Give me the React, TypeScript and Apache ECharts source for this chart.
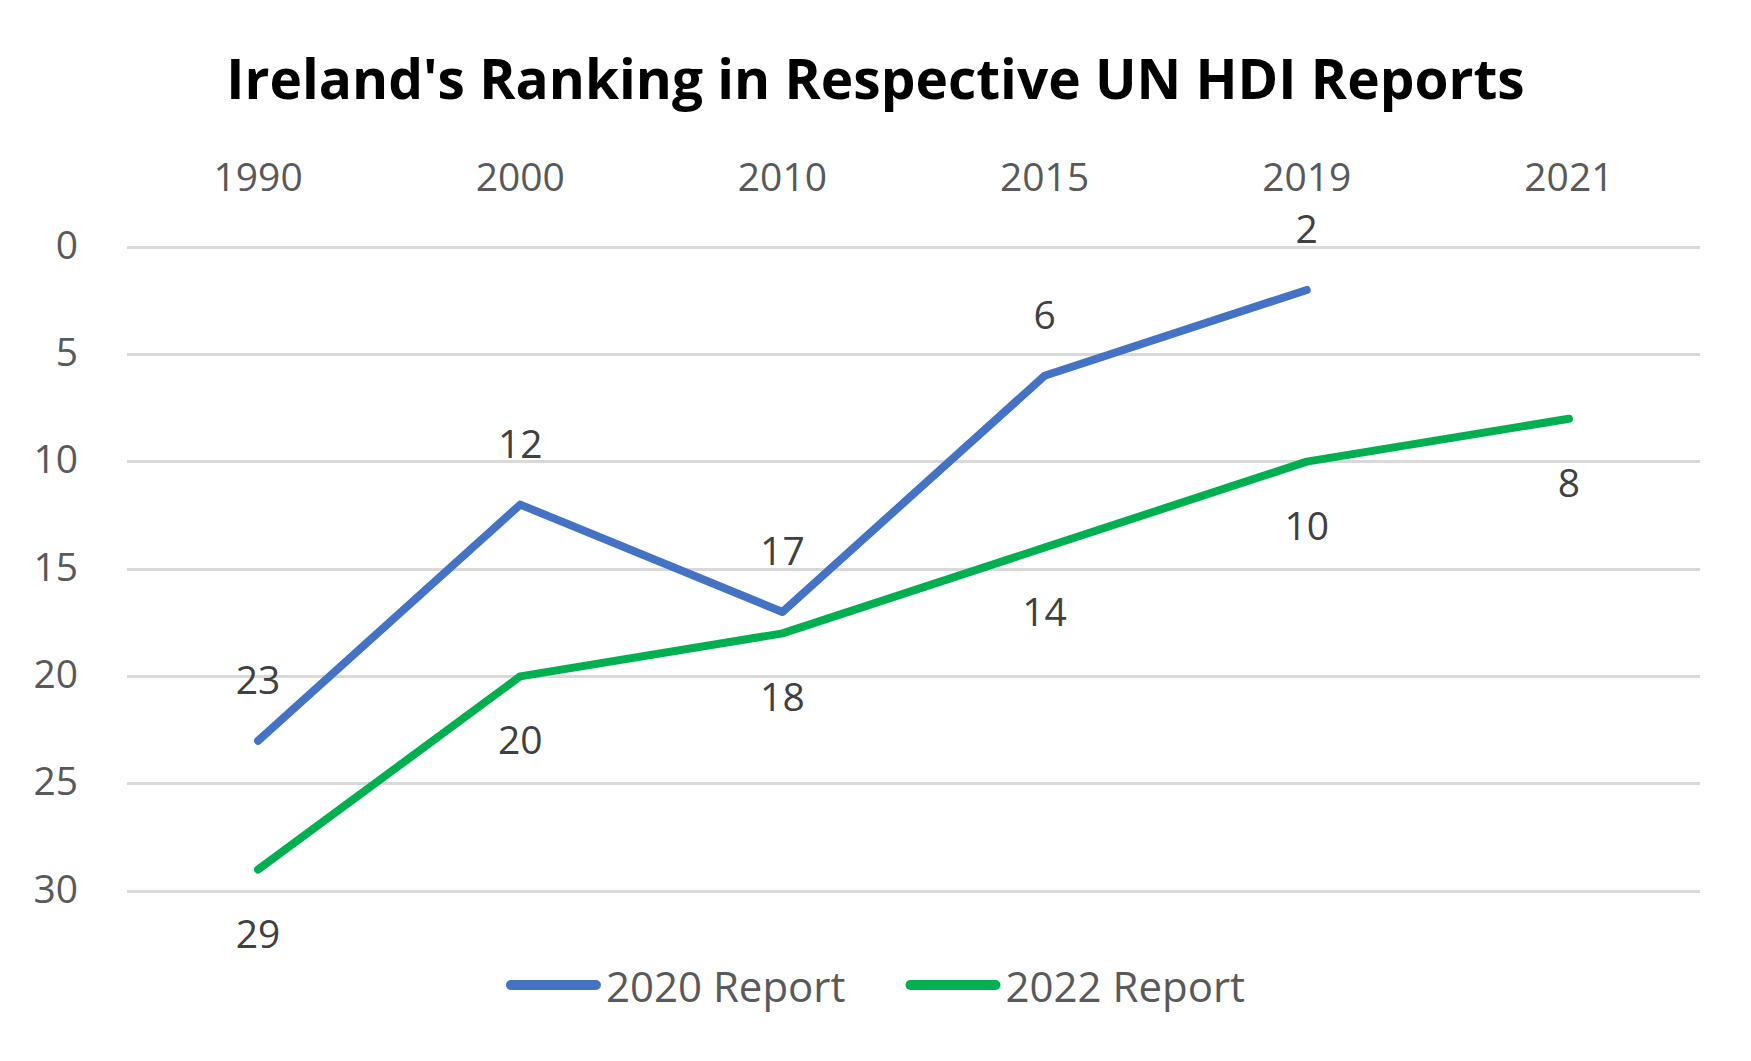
import React, { useEffect, useRef } from "react";
import * as echarts from "echarts";

const years = ["1990", "2000", "2010", "2015", "2019", "2021"];
const report2020: (number | null)[] = [23, 12, 17, 6, 2, null];
const report2022: number[] = [29, 20, 18, 14, 10, 8];
const seriesNames = ["2020 Report", "2022 Report"];
const titleText = "Ireland's Ranking in Respective UN HDI Reports";

const FONT = "'Open Sans', 'Noto Sans', sans-serif";

export default function App() {
  const ref = useRef<HTMLDivElement>(null);
  useEffect(() => {
    document.body.style.margin = "0";
    if (!ref.current) return;
    const chart = echarts.init(ref.current, undefined, { renderer: "svg" });
    const capsule = "path://M5,0 L90,0 A5,5 0 0 1 90,10 L5,10 A5,5 0 0 1 5,0 Z";
    chart.setOption({
      animation: false,
      backgroundColor: "#ffffff",
      title: {
        text: titleText,
        left: "center",
        top: 45,
        textStyle: {
          fontFamily: FONT,
          fontWeight: "bold",
          fontSize: 55,
          color: "#000000",
        },
      },
      grid: { left: 127, right: 51, top: 247, bottom: 170 },
      legend: {
        data: [
          { name: seriesNames[0], icon: capsule, itemStyle: { color: "#4472C4" } },
          { name: seriesNames[1], icon: capsule, itemStyle: { color: "#00B050" } },
        ],
        left: "center",
        top: 959,
        itemWidth: 95,
        itemHeight: 10,
        itemGap: 60,
        textStyle: { fontFamily: FONT, fontSize: 42, color: "#595959" },
      },
      xAxis: {
        type: "category",
        data: years,
        position: "top",
        boundaryGap: true,
        axisLine: { show: false },
        axisTick: { show: false },
        axisLabel: {
          margin: 52,
          fontFamily: FONT,
          fontSize: 39,
          color: "#595959",
        },
      },
      yAxis: {
        type: "value",
        inverse: true,
        min: 0,
        max: 30,
        interval: 5,
        axisLine: { show: false },
        axisTick: { show: false },
        axisLabel: {
          margin: 49,
          fontFamily: FONT,
          fontSize: 39,
          color: "#595959",
          verticalAlign: "bottom",
          lineHeight: 8,
        },
        splitLine: { lineStyle: { color: "#d9d9d9", width: 3 } },
      },
      series: [
        {
          name: seriesNames[0],
          type: "line",
          data: report2020,
          symbol: "circle",
          symbolSize: 2,
          showSymbol: true,
          lineStyle: { color: "#4472C4", width: 8, cap: "round", join: "round" },
          itemStyle: { color: "#4472C4" },
          label: {
            show: true,
            position: "top",
            distance: 42,
            fontFamily: FONT,
            fontSize: 39,
            color: "#404040",
          },
        },
        {
          name: seriesNames[1],
          type: "line",
          data: report2022,
          symbol: "circle",
          symbolSize: 2,
          showSymbol: true,
          lineStyle: { color: "#00B050", width: 8, cap: "round", join: "round" },
          itemStyle: { color: "#00B050" },
          label: {
            show: true,
            position: "bottom",
            distance: 42,
            fontFamily: FONT,
            fontSize: 39,
            color: "#404040",
          },
        },
      ],
    });
    return () => chart.dispose();
  }, []);
  return <div ref={ref} style={{ width: 1751, height: 1061 }} />;
}
